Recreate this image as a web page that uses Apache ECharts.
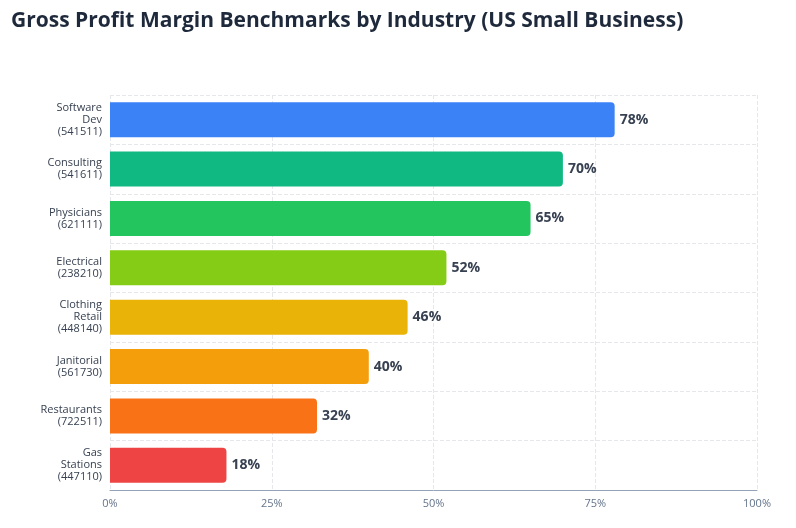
<!DOCTYPE html>
<html><head><meta charset="utf-8">
<script src="https://cdn.jsdelivr.net/npm/echarts@6/dist/echarts.min.js"></script>
<style>body{margin:0}#c{width:796px;height:528px}</style></head>
<body><div id="c"></div>
<script>
const categories = ["Software\nDev\n(541511)","Consulting\n(541611)","Physicians\n(621111)","Electrical\n(238210)","Clothing\nRetail\n(448140)","Janitorial\n(561730)","Restaurants\n(722511)","Gas\nStations\n(447110)"];
const margins = [78,70,65,52,46,40,32,18];
const colors = ["#3b82f6","#10b981","#22c55e","#84cc16","#eab308","#f59e0b","#f97316","#ef4444"];
const xTicks = [0,25,50,75,100];
const chart = echarts.init(document.getElementById('c'));
chart.setOption({
  title:{text:"Gross Profit Margin Benchmarks by Industry (US Small Business)",left:6,top:6,
    textStyle:{fontFamily:"Open Sans",fontSize:21,fontWeight:"bold",color:"#1e293b"}},
  grid:{left:110,right:39,top:95,bottom:38},
  xAxis:{type:"value",min:0,max:100,interval:25,
    axisLabel:{formatter:v=>v+"%",color:"#64748b",fontSize:11,fontFamily:"Open Sans"},
    axisLine:{show:true,lineStyle:{color:"#94a3b8"}},axisTick:{show:false},
    splitLine:{lineStyle:{type:"dashed",color:"#e5e7eb"}}},
  yAxis:{type:"category",inverse:true,data:categories,
    axisLabel:{color:"#374151",fontSize:11,fontFamily:"Open Sans",lineHeight:12,margin:8},
    axisLine:{show:false},axisTick:{show:false},
    splitLine:{show:true,lineStyle:{type:"dashed",color:"#e5e7eb"}}},
  series:[{type:"bar",barCategoryGap:"29%",
    data:margins.map((v,i)=>({value:v,itemStyle:{color:colors[i],borderRadius:[0,4,4,0]}})),
    label:{show:true,position:"right",formatter:p=>p.value+"%",fontSize:14,fontWeight:"bold",color:"#374151",fontFamily:"Open Sans",distance:5}}]
});
</script></body></html>
